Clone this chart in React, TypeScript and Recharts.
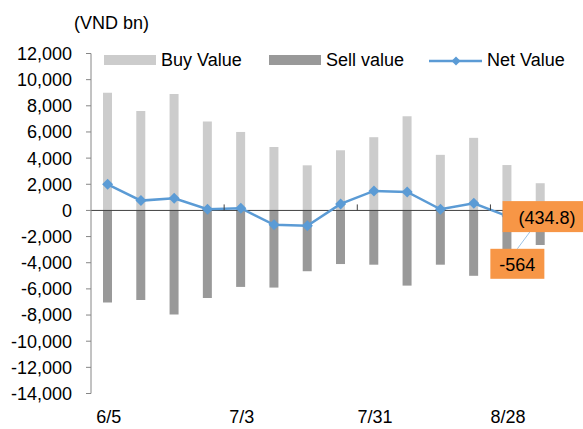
import React from 'react';
import { ComposedChart, Bar, Line, XAxis, YAxis, ReferenceLine, LabelList } from 'recharts';

const dates = ['6/5', '6/12', '6/19', '6/26', '7/3', '7/10', '7/17', '7/24', '7/31', '8/7', '8/14', '8/21', '8/28', '9/4'];
const buyValues = [9000, 7600, 8900, 6800, 6000, 4850, 3450, 4600, 5600, 7200, 4250, 5550, 3470, 2080];
const sellValues = [-7050, -6850, -7950, -6700, -5850, -5900, -4650, -4100, -4150, -5750, -4150, -5000, -3905, -2644];
const netValues = [2000, 750, 930, 90, 170, -1100, -1180, 500, 1490, 1410, 90, 550, -434.8, -564];
const netLabels = ['', '', '', '', '', '', '', '', '', '', '', '', '(434.8)', '-564'];
const yTicks = [-14000, -12000, -10000, -8000, -6000, -4000, -2000, 0, 2000, 4000, 6000, 8000, 10000, 12000];

const data = dates.map((date, i) => ({
  date,
  buy: buyValues[i],
  sell: sellValues[i],
  net: netValues[i],
  label: netLabels[i],
}));

const W = 583;
const H = 429;
const TOP = 53.5;
const LEFT = 91;
const RIGHT = 26;
const X_AXIS_H = 35.5;
const PLOT_W = W - LEFT - RIGHT;
const PLOT_H = H - TOP - X_AXIS_H;
const ZERO_Y = TOP + (PLOT_H * 12000) / 26000;
const BAND = PLOT_W / dates.length;

const FONT = '"Liberation Sans", Arial, sans-serif';
const BLUE = '#5B9BD5';
const ORANGE = '#F79646';

// bottom labels every 4 weeks, plus the small tick marks sitting on the zero line
const XTick = (props: any) => {
  const { x, index, payload } = props;
  if (index % 4 !== 0) return <g />;
  return (
    <g>
      {index > 0 && (
        <line x1={x - BAND / 2} x2={x - BAND / 2} y1={ZERO_Y - 6} y2={ZERO_Y} stroke="#404040" />
      )}
      <text x={x + 1} y={423} textAnchor="middle" fontSize={18} fill="#000" fontFamily={FONT}>
        {payload.value}
      </text>
    </g>
  );
};

const Diamond = (props: any) => {
  const { cx, cy, index } = props;
  const r = 5.5;
  return (
    <path
      key={`d-${index}`}
      d={`M${cx},${cy - r} L${cx + r},${cy} L${cx},${cy + r} L${cx - r},${cy} Z`}
      fill={BLUE}
    />
  );
};

const Leader = (props: any) => {
  const { x, y, index } = props;
  if (index !== dates.length - 1) return null;
  return <line x1={x - 23} y1={y + 31} x2={x} y2={y} stroke="#9DC3E6" strokeWidth={1} />;
};

const NetLabel = (props: any) => {
  const { x, y, index } = props;
  const text = netLabels[index];
  if (!text) return null;
  if (index === dates.length - 1) {
    return (
      <g>
        <rect x={x - 50} y={y + 31} width={54} height={30} fill={ORANGE} />
        <text x={x - 23} y={y + 47} textAnchor="middle" dominantBaseline="central" fontSize={18} fill="#000" fontFamily={FONT}>
          {text}
        </text>
      </g>
    );
  }
  return (
    <g>
      <rect x={x - 4.5} y={y - 15} width={82} height={31} fill={ORANGE} />
      <text x={x + 40} y={y + 2} textAnchor="middle" dominantBaseline="central" fontSize={18} fill="#000" fontFamily={FONT}>
        {text}
      </text>
    </g>
  );
};

const LegendOverlay = () => (
  <svg width={W} height={H} style={{ position: 'absolute', left: 0, top: 0, pointerEvents: 'none' }}>
    <g fontFamily={FONT} fontSize={18} fill="#000">
      <text x={74} y={29}>(VND bn)</text>
      <rect x={104} y={55} width={52} height={10} fill="#cccccc" />
      <text x={161} y={66}>Buy Value</text>
      <rect x={269} y={55} width={52} height={10} fill="#999999" />
      <text x={326} y={66}>Sell value</text>
      <line x1={429} x2={482} y1={61} y2={61} stroke={BLUE} strokeWidth={2.5} />
      <path d="M456,56.5 L460.5,61 L456,65.5 L451.5,61 Z" fill={BLUE} />
      <text x={487} y={66}>Net Value</text>
    </g>
  </svg>
);

export default function App() {
  return (
    <div style={{ position: 'absolute', left: 0, top: 0, width: W, height: H, background: '#fff', fontFamily: FONT }}>
      <ComposedChart
        width={W}
        height={H}
        data={data}
        stackOffset="sign"
        margin={{ top: TOP, right: RIGHT, bottom: 0, left: 0 }}
      >
        <XAxis
          dataKey="date"
          height={X_AXIS_H}
          axisLine={false}
          tickLine={false}
          interval={0}
          tick={<XTick />}
        />
        <YAxis
          width={LEFT}
          domain={[-14000, 12000]}
          ticks={yTicks}
          interval={0}
          tickFormatter={(v: number) => v.toLocaleString('en-US')}
          tick={{ fontSize: 18, fill: '#000', fontFamily: FONT }}
          axisLine={{ stroke: '#868686' }}
          tickLine={{ stroke: '#868686' }}
          tickSize={5}
          tickMargin={14}
        />
        <Bar dataKey="buy" stackId="v" fill="#cccccc" barSize={9} isAnimationActive={false} />
        <Bar dataKey="sell" stackId="v" fill="#999999" barSize={9} isAnimationActive={false} />
        <ReferenceLine y={0} stroke="#404040" strokeWidth={1} />
        <Line
          dataKey="net"
          stroke={BLUE}
          strokeWidth={2.5}
          dot={Diamond}
          activeDot={false}
          isAnimationActive={false}
        >
          <LabelList dataKey="label" content={Leader} />
          <LabelList dataKey="label" content={NetLabel} />
        </Line>
      </ComposedChart>
      <LegendOverlay />
    </div>
  );
}
